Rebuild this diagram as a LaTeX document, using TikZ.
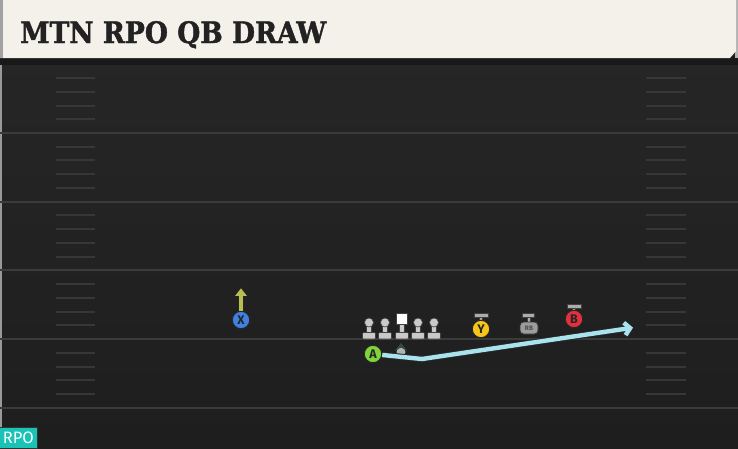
\documentclass[tikz,border=0pt]{standalone}
\usepackage{fontspec}
\setsansfont{Fira Sans}
\newfontfamily\titlefont{DejaVu Serif}[BoldFeatures={FakeBold=1.6}]
\usetikzlibrary{arrows.meta}

\definecolor{headerbg}{HTML}{F4F1EA}
\definecolor{headeredge}{HTML}{A2A2A2}
\definecolor{titlegray}{HTML}{222222}
\definecolor{fieldtop}{HTML}{272727}
\definecolor{fieldbot}{HTML}{1E1E1E}
\definecolor{yardgray}{HTML}{3B3B3B}
\definecolor{hashgray}{HTML}{373737}
\definecolor{xblue}{HTML}{3F80E2}
\definecolor{xroute}{HTML}{B8BF50}
\definecolor{agreen}{HTML}{7ED43B}
\definecolor{yyellow}{HTML}{F5C518}
\definecolor{bred}{HTML}{E2313D}
\definecolor{rbgray}{HTML}{9C9C9C}
\definecolor{olgray}{HTML}{C9C9C9}
\definecolor{qbgreen}{HTML}{2F4D3A}
\definecolor{routeblue}{HTML}{A9E3EE}
\definecolor{rpoteal}{HTML}{19C3B5}

\tikzset{
  player/.style={circle, draw=black!85, line width=1pt, minimum size=17.5pt,
    inner sep=0pt, text=black!85, font=\sffamily\bfseries\fontsize{12.5}{12.5}\selectfont},
  olhead/.style={circle, fill=olgray, draw=black!75, line width=0.6pt,
    minimum size=9pt, inner sep=0pt},
  olpart/.style={fill=olgray, draw=black!75, line width=0.6pt},
  tbar/.style={fill=gray!65, draw=black!75, line width=0.6pt},
  hashmark/.style={draw=hashgray, line width=2pt},
  yardline/.style={draw=yardgray, line width=2pt},
  routeunder/.style={draw=black!85, line width=6.4pt, line join=round},
}

\begin{document}
\begin{tikzpicture}[x=1pt, y=-1pt]
  \useasboundingbox (0,0) rectangle (738,448);

  % --- field ---
  \shade[top color=fieldtop, bottom color=fieldbot] (0,0) rectangle (738,448);
  \fill[black!40] (0,64) rectangle (1.5,448);

  % yard lines and hash marks
  \foreach \k in {0,...,4} {
    \pgfmathsetmacro{\yl}{64.3+68.7*\k}
    \draw[yardline] (0,\yl+68.7) -- (738,\yl+68.7);
    \foreach \j in {1,...,4} {
      \draw[hashmark] (56,\yl+13.74*\j) -- (95,\yl+13.74*\j);
      \draw[hashmark] (646,\yl+13.74*\j) -- (686,\yl+13.74*\j);
    }
  }

  % --- header ---
  \fill[black!90] (0,56) rectangle (738,64.5);
  \fill[gray!60] (735,0) rectangle (738,58);
  \fill[headerbg] (0,0) -- (736,0) -- (736,51) -- (730,58) -- (0,58) -- cycle;
  \fill[headeredge] (0,0) rectangle (3,58);
  \node[anchor=base west, inner sep=0pt, text=titlegray, xscale=0.9,
    font=\titlefont\bfseries\fontsize{29.5}{29.5}\selectfont] (title) at (20,43)
    {MTN RPO QB DRAW};

  % --- offensive line ---
  \foreach \x/\n in {369/LT, 385/LG, 418/RG, 434/RT} {
    \filldraw[olpart] (\x-2.6,323) rectangle (\x+2.6,334);
    \filldraw[olpart, rounded corners=1pt] (\x-6.5,332.5) rectangle (\x+6.5,339);
    \node[olhead] (\n) at (\x,322.5) {};
  }
  \filldraw[olpart] (399.4,322) rectangle (404.6,334);
  \filldraw[olpart, rounded corners=1pt] (395.5,332.5) rectangle (408.5,339);
  \node[fill=white, draw=black!75, line width=0.6pt, minimum size=11pt,
    inner sep=0pt] (C) at (402,318.5) {};

  % --- quarterback ---
  \node[circle, fill=gray!60, minimum size=9pt, inner sep=0pt] (QB) at (401,352) {};
  \fill[qbgreen] (394.5,351) -- (401,343) -- (407.5,351) -- (401,347.5) -- cycle;

  % --- X with its route ---
  \node[player, fill=xblue] (X) at (241,320) {X};
  \coordinate (Xend) at (241,287);
  \draw[routeunder, -{Triangle[length=9.5pt, width=14pt]}] (X) -- (Xend);
  \draw[xroute, line width=4.4pt, shorten >=1.3pt,
    -{Triangle[length=7.5pt, width=11pt]}] (X) -- (Xend);

  % --- Y, RB and B ---
  \filldraw[tbar] (474,313.5) rectangle (488,317.5);
  \filldraw[tbar] (479.3,317.5) rectangle (482.7,321);
  \node[player, fill=yyellow] (Y) at (481,329) {Y};

  \filldraw[tbar] (522.5,313.5) rectangle (534.5,317.5);
  \filldraw[tbar] (526.8,317.5) rectangle (530.2,322.5);
  \node[rounded corners=3.5pt, fill=rbgray, draw=black!80, line width=0.8pt,
    minimum width=18pt, minimum height=12pt, inner sep=0pt, text=black!70,
    font=\sffamily\bfseries\fontsize{6.5}{6.5}\selectfont] (RB) at (529,328) {RB};

  \filldraw[tbar] (567,304.5) rectangle (581,308.5);
  \filldraw[tbar] (572.3,308.5) rectangle (575.7,311);
  \node[player, fill=bred] (B) at (574,319) {B};

  % --- A with the draw route ---
  \node[player, fill=agreen] (A) at (373,354) {A};
  \coordinate (Abend) at (422,359);
  \coordinate (Aend) at (634,327.5);
  \draw[routeunder, -{Straight Barb[length=6pt, width=14pt]}] (A) -- (Abend) -- (Aend);
  \draw[routeblue, line width=4.4pt, line join=round, shorten >=1pt,
    -{Straight Barb[length=5.5pt, width=12.5pt]}] (A) -- (Abend) -- (Aend);

  % --- RPO tag ---
  \node[anchor=south west, fill=rpoteal, draw=black!80, line width=0.6pt,
    minimum width=38pt, minimum height=21pt, inner sep=0pt, text=white,
    font=\sffamily\fontsize{16.5}{16.5}\selectfont] (rpo) at (-1,449) {RPO};
\end{tikzpicture}
\end{document}
